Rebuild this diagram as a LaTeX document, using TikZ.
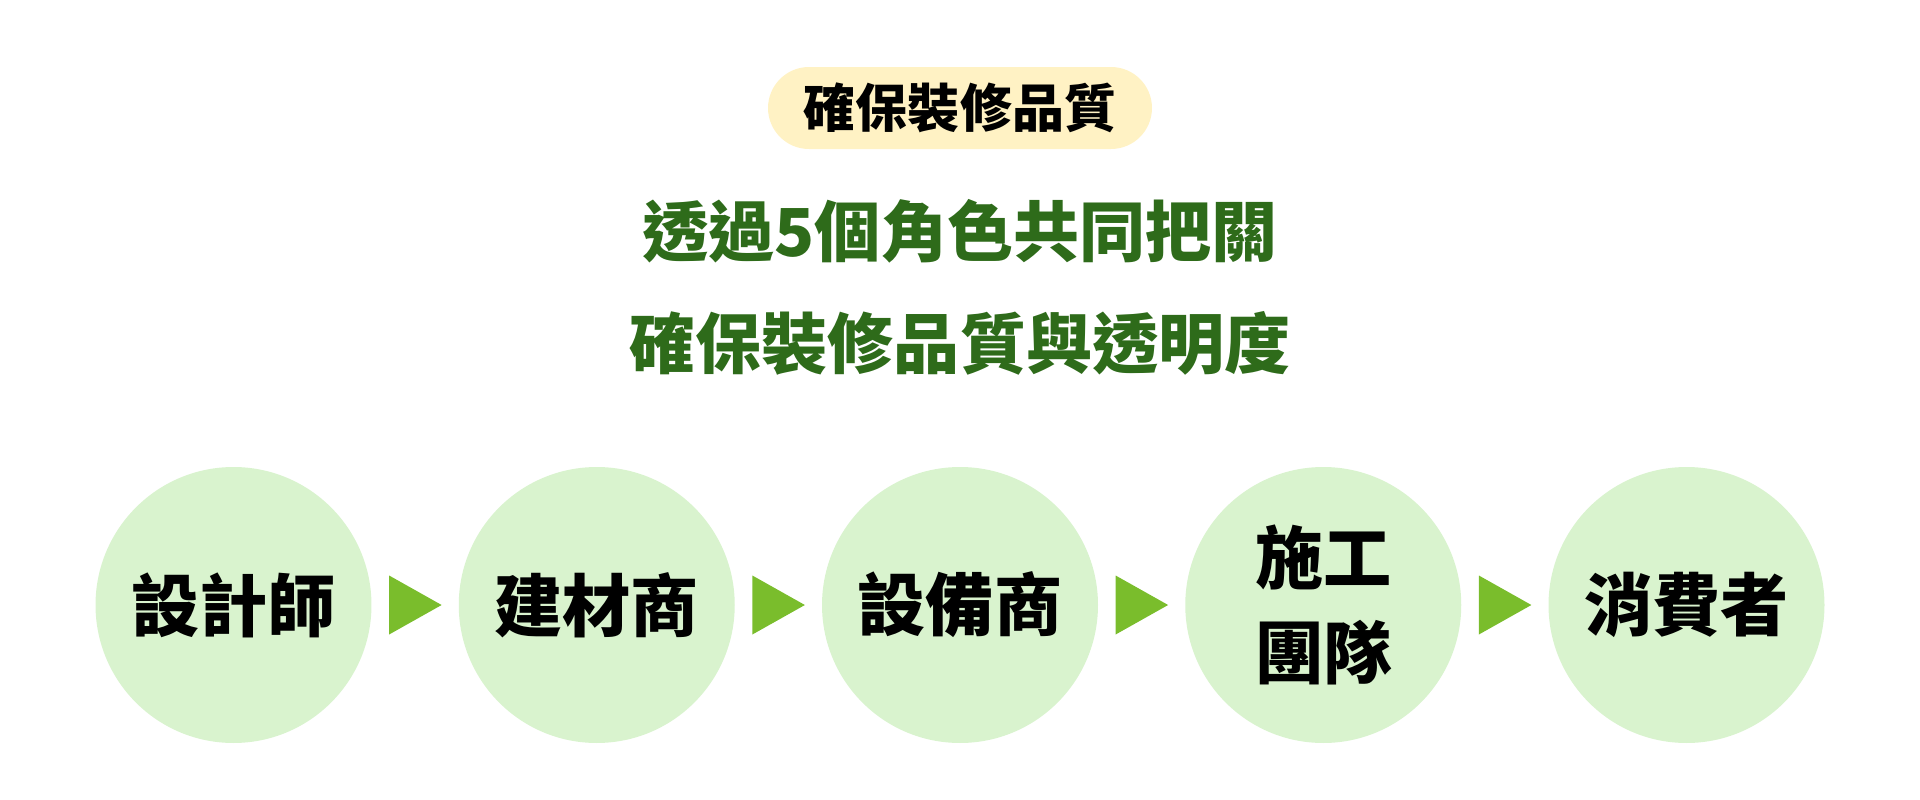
\documentclass[tikz,border=0pt]{standalone}
\usepackage{fontspec}
\usetikzlibrary{calc}
\newfontfamily\cjk{Noto Sans CJK TC}
\definecolor{rolefill}{HTML}{D9F3CE}
\definecolor{tagfill}{HTML}{FFF2C4}
\definecolor{headgreen}{HTML}{2E6B1A}
\definecolor{arrowgreen}{HTML}{7ABD2C}

\begin{document}
\begin{tikzpicture}[x=0.05cm,y=-0.05cm,
  role/.style={circle,fill=rolefill,minimum size=13.8cm,inner sep=0pt,align=center,
    font=\cjk\bfseries\fontsize{97}{135}\selectfont},
  tag/.style={rectangle,rounded corners=2.05cm,fill=tagfill,minimum width=19.2cm,
    minimum height=4.1cm,inner sep=0pt,font=\cjk\bfseries\fontsize{74}{80}\selectfont},
  headline/.style={align=center,text=headgreen,inner sep=0pt,
    font=\cjk\bfseries\fontsize{94}{159}\selectfont}]

\useasboundingbox (0,0) rectangle (1920,800);

\node [tag] (tag) at (960,108) {確保裝修品質};
\node [headline] (head) at (960,287) {透過5個角色共同把關\\確保裝修品質與透明度};

\node [role] (r1) at (233.5,605) {設計師};
\node [role] (r2) at (596.75,605) {建材商};
\node [role] (r3) at (960,605) {設備商};
\node [role] (r4) at (1323.25,605) {施工\\團隊};
\node [role] (r5) at (1686.5,605) {消費者};

\foreach \a/\b in {r1/r2,r2/r3,r3/r4,r4/r5}
  \fill [arrowgreen] ($(\a.east)!0.5!(\b.west)$) ++(-26,-29.5) -- ++(52.5,29.5) -- ++(-52.5,29.5) -- cycle ;
\end{tikzpicture}
\end{document}
